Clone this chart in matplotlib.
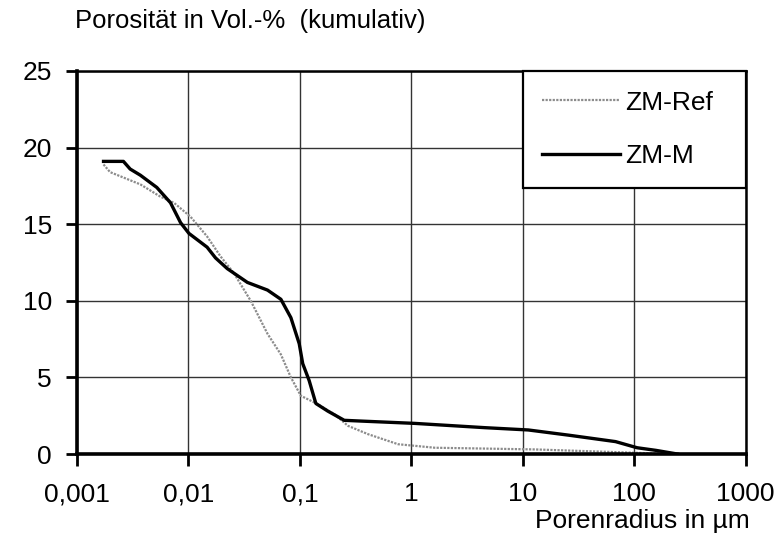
import matplotlib
matplotlib.use("Agg")
import matplotlib.pyplot as plt
from matplotlib.ticker import FixedLocator, NullLocator

plt.rcParams['font.family'] = ['Liberation Sans', 'DejaVu Sans']

# ZM-M (schwarz, durchgezogen)
r_m = [0.00173, 0.00261, 0.0030, 0.0037, 0.0052, 0.0069, 0.0085, 0.0101, 0.0147,
       0.0175, 0.0223, 0.0338, 0.0512, 0.0675, 0.083, 0.0986, 0.106, 0.121, 0.139,
       0.178, 0.25, 0.355, 1.07, 4.57, 11.2, 25.8, 67.9, 106, 156, 244]
p_m = [19.1, 19.1, 18.6, 18.2, 17.4, 16.4, 15.1, 14.4, 13.5,
       12.8, 12.1, 11.2, 10.7, 10.1, 8.9, 7.2, 5.9, 4.8, 3.3,
       2.8, 2.2, 2.15, 2.0, 1.72, 1.57, 1.23, 0.81, 0.41, 0.24, 0.0]

# ZM-Ref (grau, gepunktet)
r_ref = [0.00173, 0.00198, 0.0037, 0.0056, 0.0074, 0.0104, 0.0147, 0.0194, 0.0256,
         0.0362, 0.0512, 0.0675, 0.083, 0.102, 0.144, 0.204, 0.27, 0.407, 0.76,
         1.62, 12.9, 103, 205]
p_ref = [18.9, 18.4, 17.6, 16.8, 16.4, 15.5, 14.2, 12.9, 11.8,
         10.0, 7.85, 6.5, 5.0, 3.8, 3.26, 2.6, 1.84, 1.3, 0.64,
         0.41, 0.3, 0.08, 0.0]

x_ticks = [0.001, 0.01, 0.1, 1, 10, 100, 1000]
x_labels = ['0,001', '0,01', '0,1', '1', '10', '100', '1000']
y_ticks = [0, 5, 10, 15, 20, 25]

fig = plt.figure(figsize=(7.84, 5.44), dpi=100)
ax = fig.add_axes([0.0982, 0.1654, 0.8530, 0.7041])

ax.plot(r_ref, p_ref, color='#8c8c8c', linestyle=(0, (1, 0.6)), linewidth=1.6, label='ZM-Ref')
ax.plot(r_m, p_m, color='black', linewidth=2.4, label='ZM-M')

ax.set_xscale('log')
ax.set_xlim(0.001, 1000)
ax.set_ylim(0, 25)
ax.xaxis.set_major_locator(FixedLocator(x_ticks))
ax.xaxis.set_minor_locator(NullLocator())
ax.set_xticklabels(x_labels)
ax.set_yticks(y_ticks)
ax.tick_params(axis='x', labelsize=19, direction='out', length=8.5, width=2, pad=12)
ax.tick_params(axis='y', labelsize=19, direction='out', length=8, width=2, pad=10)
ax.grid(True, color='#333333', linewidth=1.0)

for s in ['left', 'bottom']:
    ax.spines[s].set_linewidth(2.6)
for s in ['top', 'right']:
    ax.spines[s].set_linewidth(1.8)

fig.text(0.0957, 0.9485, 'Porosität in Vol.-%  (kumulativ)', fontsize=18.5, va='baseline')
fig.text(0.9566, 0.0294, 'Porenradius in µm', fontsize=19, ha='right', va='baseline')

leg = ax.legend(loc='upper left', bbox_to_anchor=(0.6665, 0.0, 0.3335, 1.0), mode='expand',
                fontsize=19, frameon=True, fancybox=False, edgecolor='black', framealpha=1,
                borderpad=0.74, labelspacing=1.12, handlelength=2.95, handletextpad=0.2,
                borderaxespad=0)
leg.get_frame().set_linewidth(1.6)

fig.savefig('out.png', dpi=100)
